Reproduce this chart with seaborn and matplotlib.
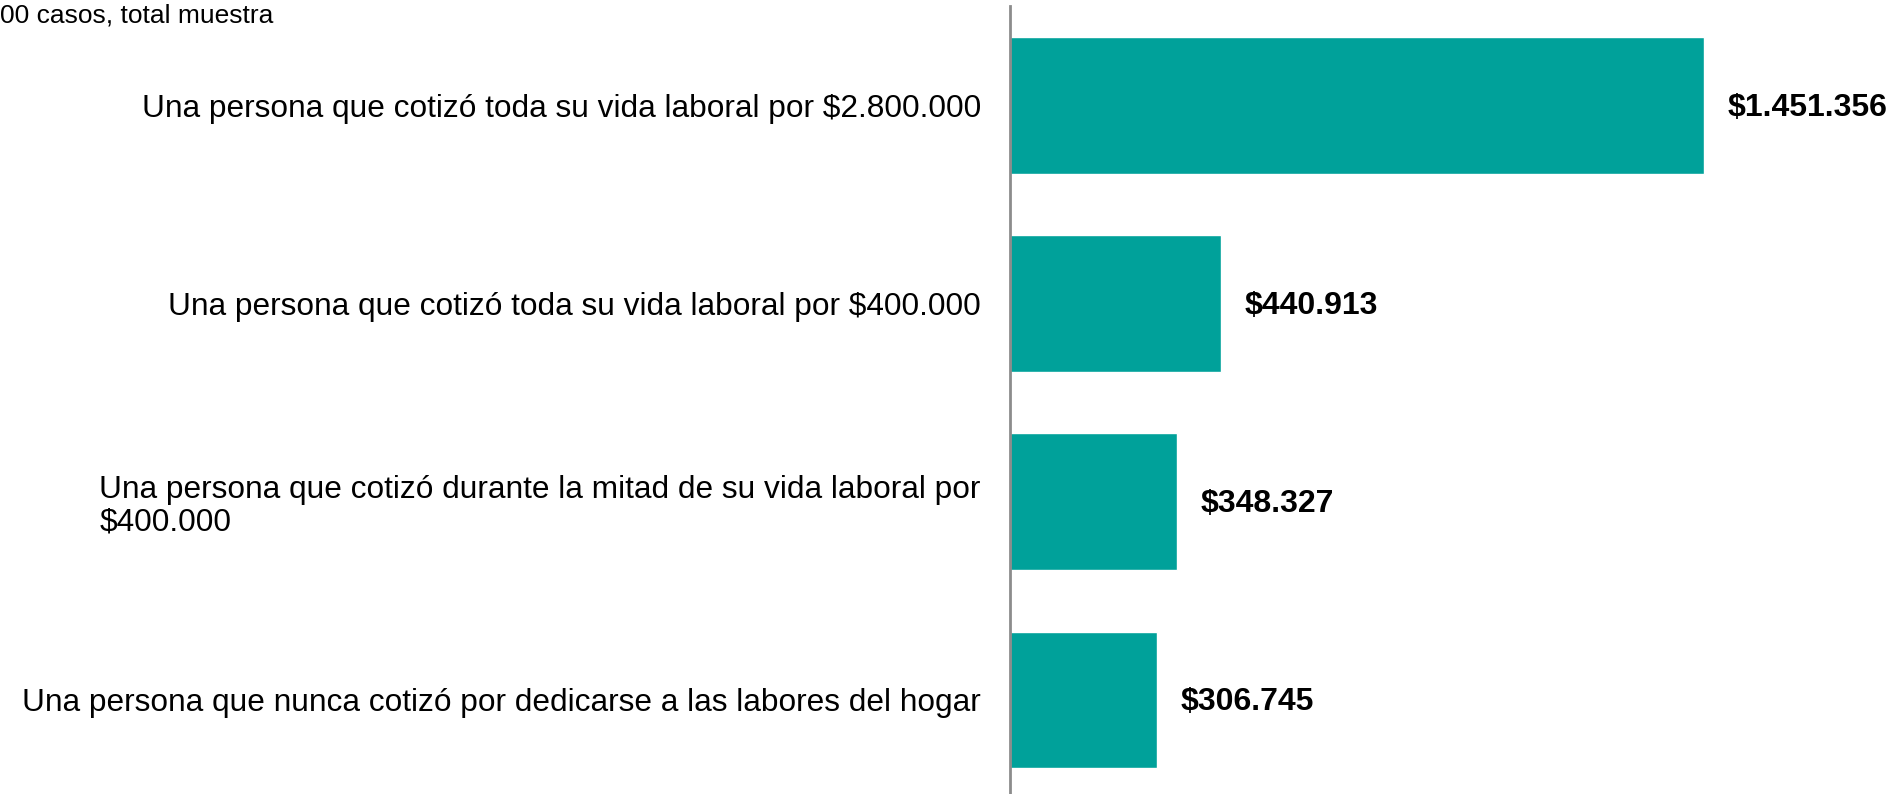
import pandas as pd
import matplotlib.pyplot as plt
import seaborn as sns

# data
categorias = [
    'Una persona que cotizó toda su vida laboral por $2.800.000',
    'Una persona que cotizó toda su vida laboral por $400.000',
    'Una persona que cotizó durante la mitad de su vida laboral por\n$400.000',
    'Una persona que nunca cotizó por dedicarse a las labores del hogar',
]
montos = [1451356, 440913, 348327, 306745]
etiquetas = ['$1.451.356', '$440.913', '$348.327', '$306.745']
nota = '00 casos, total muestra'

df = pd.DataFrame({'Categoria': categorias, 'Monto': montos})

sns.set_style('white')
plt.rcParams['font.family'] = ['Liberation Sans', 'DejaVu Sans']
plt.rcParams['text.color'] = 'black'
plt.rcParams['ytick.color'] = 'black'
plt.rcParams['ytick.labelcolor'] = 'black'

fig = plt.figure(figsize=(18.95, 7.94), dpi=100)
ax = fig.add_axes([1010 / 1895, 0, 885 / 1895, 788 / 794])

sns.barplot(x='Monto', y='Categoria', data=df, orient='h', color='#00A19A',
            saturation=1, width=0.69, ax=ax)

ax.set_xlim(0, 885 / 694 * 1451356)
ax.set_ylim(3.475, -0.503)
ax.set_xlabel('')
ax.set_ylabel('')
ax.set_xticks([])

for s in ['top', 'right', 'bottom']:
    ax.spines[s].set_visible(False)
ax.spines['left'].set_color('#8c8c8c')
ax.spines['left'].set_linewidth(2)

ax.tick_params(axis='y', length=0, pad=21, labelsize=22.8)
for t in ax.get_yticklabels():
    t.set_multialignment('left')
    t.set_linespacing(1.1)

for i, (v, lab) in enumerate(zip(montos, etiquetas)):
    ax.annotate(lab, (v, i), xytext=(24, -2), textcoords='offset pixels',
                ha='left', va='center', fontsize=23, fontweight='bold')

fig.text(0, 1 - 16 / 794, nota, ha='left', va='center', fontsize=19)

fig.savefig('out.png', dpi=100)
